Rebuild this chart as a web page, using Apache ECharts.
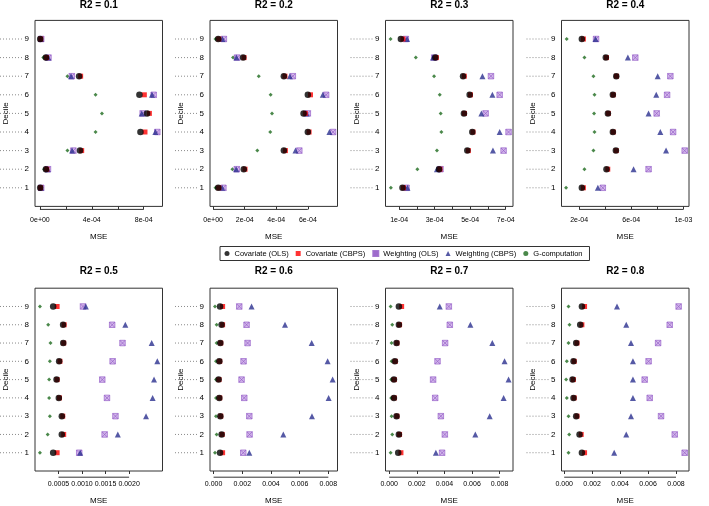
<!DOCTYPE html>
<html><head><meta charset="utf-8">
<script src="https://cdn.jsdelivr.net/npm/echarts@6/dist/echarts.min.js"></script>
<style>html,body{margin:0;padding:0;background:#fff}#c{width:709px;height:506px}</style>
</head><body><div id="c"></div><script>
// ---------- data (deciles 1..9) ----------
const deciles = [1,2,3,4,5,6,7,8,9];
const seriesNames = ['Covariate (OLS)','Covariate (CBPS)','Weighting (OLS)','Weighting (CBPS)','G-computation'];
const panelTitles = ['R2 = 0.1','R2 = 0.2','R2 = 0.3','R2 = 0.4','R2 = 0.5','R2 = 0.6','R2 = 0.7','R2 = 0.8'];

// R2 = 0.1
const covOLS_r1  = [0.02e-4,0.46e-4,3.09e-4,7.75e-4,8.26e-4,7.67e-4,3.02e-4,0.46e-4,0.02e-4];
const covCBPS_r1 = [0.05e-4,0.53e-4,3.22e-4,8.10e-4,8.44e-4,8.05e-4,3.14e-4,0.51e-4,0.06e-4];
const wOLS_r1    = [0.10e-4,0.62e-4,2.58e-4,9.05e-4,7.92e-4,8.77e-4,2.46e-4,0.66e-4,0.10e-4];
const wCBPS_r1   = [0.08e-4,0.60e-4,2.48e-4,8.90e-4,7.85e-4,8.64e-4,2.40e-4,0.64e-4,0.08e-4];
const gcomp_r1   = [0.01e-4,0.33e-4,2.12e-4,4.29e-4,4.78e-4,4.29e-4,2.12e-4,0.26e-4,0.01e-4];
// R2 = 0.2
const covOLS_r2  = [0.32e-4,1.94e-4,4.48e-4,6.00e-4,5.73e-4,6.00e-4,4.48e-4,1.90e-4,0.32e-4];
const covCBPS_r2 = [0.36e-4,2.02e-4,4.58e-4,6.08e-4,5.84e-4,6.17e-4,4.55e-4,1.96e-4,0.36e-4];
const wOLS_r2    = [0.65e-4,1.50e-4,5.46e-4,7.60e-4,6.00e-4,7.16e-4,5.05e-4,1.52e-4,0.68e-4];
const wCBPS_r2   = [0.57e-4,1.46e-4,5.22e-4,7.37e-4,5.92e-4,6.95e-4,4.86e-4,1.48e-4,0.59e-4];
const gcomp_r2   = [0.15e-4,1.22e-4,2.80e-4,3.62e-4,3.73e-4,3.64e-4,2.89e-4,1.26e-4,0.15e-4];
// R2 = 0.3
const covOLS_r3  = [1.19e-4,3.25e-4,4.84e-4,5.12e-4,4.65e-4,4.97e-4,4.60e-4,3.04e-4,1.10e-4];
const covCBPS_r3 = [1.25e-4,3.30e-4,4.90e-4,5.16e-4,4.68e-4,5.02e-4,4.67e-4,3.10e-4,1.22e-4];
const wOLS_r3    = [1.42e-4,3.33e-4,6.88e-4,7.16e-4,5.87e-4,6.66e-4,6.17e-4,2.98e-4,1.38e-4];
const wCBPS_r3   = [1.47e-4,3.13e-4,6.28e-4,6.66e-4,5.63e-4,6.25e-4,5.69e-4,2.91e-4,1.45e-4];
const gcomp_r3   = [0.54e-4,2.03e-4,3.13e-4,3.38e-4,3.34e-4,3.29e-4,2.97e-4,1.94e-4,0.52e-4];
// R2 = 0.4
const covOLS_r4  = [2.21e-4,4.10e-4,4.82e-4,4.59e-4,4.21e-4,4.59e-4,4.85e-4,4.05e-4,2.21e-4];
const covCBPS_r4 = [2.33e-4,4.20e-4,4.85e-4,4.62e-4,4.24e-4,4.62e-4,4.87e-4,4.10e-4,2.33e-4];
const wOLS_r4    = [3.82e-4,7.33e-4,10.1e-4,9.21e-4,7.95e-4,8.75e-4,9.00e-4,6.31e-4,3.30e-4];
const wCBPS_r4   = [3.44e-4,6.18e-4,8.67e-4,8.23e-4,7.33e-4,7.92e-4,8.03e-4,5.74e-4,3.26e-4];
const gcomp_r4   = [1.00e-4,2.41e-4,3.10e-4,3.18e-4,3.15e-4,3.18e-4,3.10e-4,2.41e-4,1.05e-4];
// R2 = 0.5
const covOLS_r5  = [0.386e-3,0.57e-3,0.57e-3,0.506e-3,0.458e-3,0.513e-3,0.60e-3,0.597e-3,0.386e-3];
const covCBPS_r5 = [0.47e-3,0.61e-3,0.59e-3,0.52e-3,0.47e-3,0.53e-3,0.61e-3,0.62e-3,0.47e-3];
const wOLS_r5    = [0.94e-3,1.48e-3,1.71e-3,1.53e-3,1.43e-3,1.65e-3,1.86e-3,1.64e-3,1.02e-3];
const wCBPS_r5   = [0.96e-3,1.76e-3,2.36e-3,2.50e-3,2.53e-3,2.60e-3,2.48e-3,1.92e-3,1.08e-3];
const gcomp_r5   = [0.105e-3,0.27e-3,0.316e-3,0.30e-3,0.30e-3,0.316e-3,0.33e-3,0.28e-3,0.105e-3];
// R2 = 0.6
const covOLS_r6  = [0.45e-3,0.56e-3,0.47e-3,0.40e-3,0.35e-3,0.40e-3,0.47e-3,0.56e-3,0.45e-3];
const covCBPS_r6 = [0.63e-3,0.60e-3,0.50e-3,0.43e-3,0.38e-3,0.43e-3,0.50e-3,0.63e-3,0.63e-3];
const wOLS_r6    = [2.07e-3,2.51e-3,2.49e-3,2.14e-3,1.95e-3,2.09e-3,2.37e-3,2.30e-3,1.79e-3];
const wCBPS_r6   = [2.49e-3,4.86e-3,6.86e-3,8.02e-3,8.30e-3,7.95e-3,6.84e-3,4.98e-3,2.65e-3];
const gcomp_r6   = [0.10e-3,0.21e-3,0.17e-3,0.17e-3,0.17e-3,0.17e-3,0.21e-3,0.21e-3,0.10e-3];
// R2 = 0.7
const covOLS_r7  = [0.65e-3,0.70e-3,0.53e-3,0.34e-3,0.34e-3,0.41e-3,0.53e-3,0.70e-3,0.70e-3];
const covCBPS_r7 = [0.85e-3,0.75e-3,0.56e-3,0.37e-3,0.37e-3,0.44e-3,0.56e-3,0.75e-3,0.90e-3];
const wOLS_r7    = [3.83e-3,4.03e-3,3.74e-3,3.33e-3,3.18e-3,3.50e-3,4.05e-3,4.39e-3,4.32e-3];
const wCBPS_r7   = [3.38e-3,6.24e-3,7.28e-3,8.29e-3,8.65e-3,8.36e-3,7.47e-3,5.88e-3,3.66e-3];
const gcomp_r7   = [0.10e-3,0.22e-3,0.17e-3,0.14e-3,0.14e-3,0.17e-3,0.17e-3,0.22e-3,0.10e-3];
// R2 = 0.8
const covOLS_r8  = [1.27e-3,1.10e-3,0.86e-3,0.67e-3,0.60e-3,0.67e-3,0.86e-3,1.15e-3,1.27e-3];
const covCBPS_r8 = [1.46e-3,1.22e-3,0.92e-3,0.72e-3,0.66e-3,0.72e-3,0.92e-3,1.27e-3,1.46e-3];
const wOLS_r8    = [8.62e-3,7.91e-3,6.93e-3,6.12e-3,5.76e-3,6.04e-3,6.72e-3,7.55e-3,8.19e-3];
const wCBPS_r8   = [3.58e-3,4.44e-3,4.78e-3,4.92e-3,4.92e-3,4.92e-3,4.78e-3,4.44e-3,3.78e-3];
const gcomp_r8   = [0.31e-3,0.36e-3,0.31e-3,0.19e-3,0.14e-3,0.19e-3,0.31e-3,0.38e-3,0.31e-3];

// axis ranges and ticks per panel
const xMin = [-0.38e-4,-0.20e-4,0.236e-4,0.65e-4, 0.0,-0.25e-3,-0.27e-3,-0.19e-3];
const xMax = [9.45e-4,7.88e-4,7.41e-4,10.43e-4, 2.71e-3,8.64e-3,8.97e-3,8.93e-3];
const tickVals = [
  [0,2e-4,4e-4,6e-4,8e-4],[0,2e-4,4e-4,6e-4],[1e-4,2e-4,3e-4,4e-4,5e-4,6e-4,7e-4],[2e-4,4e-4,6e-4,8e-4,1e-3],
  [0.5e-3,1e-3,1.5e-3,2e-3],[0,2e-3,4e-3,6e-3,8e-3],[0,2e-3,4e-3,6e-3,8e-3],[0,2e-3,4e-3,6e-3,8e-3]];
const labelVals = [
  [0,4e-4,8e-4],[0,2e-4,4e-4,6e-4],[1e-4,3e-4,5e-4,7e-4],[2e-4,6e-4,1e-3],
  [0.5e-3,1e-3,1.5e-3,2e-3],[0,2e-3,4e-3,6e-3,8e-3],[0,2e-3,4e-3,6e-3,8e-3],[0,2e-3,4e-3,6e-3,8e-3]];
const labelText = [
  ['0e+00','4e-04','8e-04'],['0e+00','2e-04','4e-04','6e-04'],['1e-04','3e-04','5e-04','7e-04'],['2e-04','6e-04','1e-03'],
  ['0.0005','0.0010','0.0015','0.0020'],['0.000','0.002','0.004','0.006','0.008'],['0.000','0.002','0.004','0.006','0.008'],['0.000','0.002','0.004','0.006','0.008']];

const panelData = [
  [covOLS_r1,covCBPS_r1,wOLS_r1,wCBPS_r1,gcomp_r1],
  [covOLS_r2,covCBPS_r2,wOLS_r2,wCBPS_r2,gcomp_r2],
  [covOLS_r3,covCBPS_r3,wOLS_r3,wCBPS_r3,gcomp_r3],
  [covOLS_r4,covCBPS_r4,wOLS_r4,wCBPS_r4,gcomp_r4],
  [covOLS_r5,covCBPS_r5,wOLS_r5,wCBPS_r5,gcomp_r5],
  [covOLS_r6,covCBPS_r6,wOLS_r6,wCBPS_r6,gcomp_r6],
  [covOLS_r7,covCBPS_r7,wOLS_r7,wCBPS_r7,gcomp_r7],
  [covOLS_r8,covCBPS_r8,wOLS_r8,wCBPS_r8,gcomp_r8]];

// ---------- layout / style ----------
const FONT = 'Liberation Sans, Arial, Helvetica, sans-serif';
const BOX_LEFT = [35, 210, 385.5, 561.5];
const BOX_TOP = [20.4, 288.2];
const BOX_W = 127.5, BOX_H = 186;
const AXIS_OFF = 3;
const styles = [
  {symbol:'circle', size:6.5, color:'#000000', border:null, z:6},
  {symbol:'rect', size:5, color:'#ff0000', border:null, z:5},
  {symbol:'path://M0,0H10V10H0Z M0,0L10,10 M10,0L0,10', size:5.5, color:'#c9a6e6', border:'#9057c4', z:3},
  {symbol:'triangle', size:6, color:'#2b2f8f', border:null, z:4},
  {symbol:'diamond', size:4, color:'#1d6a1d', border:null, z:2}
];
const legendIcons = ['circle','rect','path://M0,0H10V10H0Z M0,0L10,10 M10,0L0,10','triangle','circle'];

const grids=[], xAxes=[], yAxes=[], series=[], titles=[];
panelData.forEach((pd,i)=>{
  const col=i%4, row=Math.floor(i/4);
  grids.push({left:BOX_LEFT[col], top:BOX_TOP[row], width:BOX_W, height:BOX_H, show:true,
    borderColor:'#333', borderWidth:1, backgroundColor:'transparent', containLabel:false});
  const lv = labelVals[i], lt = labelText[i];
  xAxes.push({type:'value', gridIndex:i, min:xMin[i], max:xMax[i], offset:AXIS_OFF,
    name:'MSE', nameLocation:'middle', nameGap:23,
    nameTextStyle:{fontSize:8, color:'#000', fontFamily:FONT},
    axisLine:{show:false}, splitLine:{show:false},
    axisTick:{show:true, length:3, customValues:tickVals[i], lineStyle:{color:'#333'}},
    axisLabel:{show:true, customValues:lv, margin:7, fontSize:7, color:'#000', fontFamily:FONT,
      hideOverlap:false, showMinLabel:true, showMaxLabel:true,
      formatter:(v)=>{for(let k=0;k<lv.length;k++){if(Math.abs(v-lv[k])<1e-9) return lt[k];} return '';}}
  });
  yAxes.push({type:'value', gridIndex:i, min:0, max:10, interval:1,
    name:'Decile', nameLocation:'middle', nameGap:25,
    nameTextStyle:{fontSize:8, color:'#000', fontFamily:FONT},
    axisLine:{show:false}, axisTick:{show:false}, splitLine:{show:false},
    axisLabel:{margin:6, fontSize:8, color:'#000', fontFamily:FONT,
      formatter:(v)=> (v>=1 && v<=9) ? String(v) : ''}
  });
  titles.push({text:panelTitles[i], left:BOX_LEFT[col]+BOX_W/2, top: row===0 ? 0.5 : 266.5, textAlign:'center', padding:0,
    textStyle:{fontSize:10, fontWeight:'bold', color:'#000', fontFamily:FONT}});
  pd.forEach((vals,s)=>{
    const st = styles[s];
    series.push({type:'scatter', name:seriesNames[s], xAxisIndex:i, yAxisIndex:i,
      symbol:st.symbol, symbolSize:st.size, z:st.z, silent:true,
      itemStyle: st.border ? {color:st.color, borderColor:st.border, borderWidth:0.8} : {color:st.color},
      data: vals.map((v,k)=>[v, deciles[k]])});
  });
});

const chart = echarts.init(document.getElementById('c'), null, {renderer:'canvas'});
chart.setOption({
  animation:false,
  backgroundColor:'#fff',
  title:titles, grid:grids, xAxis:xAxes, yAxis:yAxes, series:series,
  legend:{left:220, top:246.5, orient:'horizontal', padding:[3,7,3,4.5], itemGap:7,
    itemWidth:5, itemHeight:5, borderColor:'#333', borderWidth:1, selectedMode:false,
    textStyle:{fontSize:7.5, color:'#000', fontFamily:FONT},
    data: seriesNames.map((n,k)=>({name:n, icon:legendIcons[k]}))}
});

// axis lines from first to last tick and dotted decile guides in the left margin
const g=[];
panelData.forEach((pd,i)=>{
  const col=i%4, row=Math.floor(i/4);
  const tv = tickVals[i];
  const x1 = chart.convertToPixel({xAxisIndex:i}, tv[0]);
  const x2 = chart.convertToPixel({xAxisIndex:i}, tv[tv.length-1]);
  const yb = BOX_TOP[row] + BOX_H + AXIS_OFF;
  g.push({type:'line', silent:true, shape:{x1:x1, y1:yb, x2:x2, y2:yb}, style:{stroke:'#333', lineWidth:1}});
  deciles.forEach(d=>{
    const y = chart.convertToPixel({yAxisIndex:i}, d);
    g.push({type:'line', silent:true, z:-1, shape:{x1:BOX_LEFT[col]-35, y1:y, x2:BOX_LEFT[col]-12, y2:y},
      style:{stroke:'#8a8a8a', lineWidth:1, lineDash:[1,2]}});
  });
});
chart.setOption({graphic:g});
</script></body></html>
